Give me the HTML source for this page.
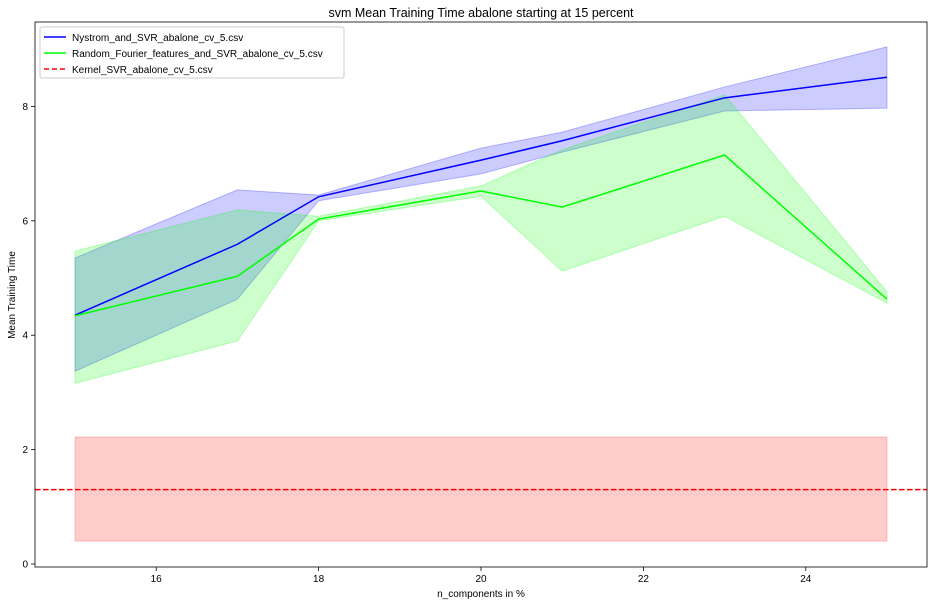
<!DOCTYPE html>
<html><head><meta charset="utf-8"><style>
body{margin:0;background:#fff;font-family:"Liberation Sans",sans-serif}
svg text{font-family:"Liberation Sans",sans-serif;fill:#000}
</style></head><body>
<svg id="chart" width="934" height="605" xmlns="http://www.w3.org/2000/svg">
<text x="481" y="17" font-size="12.5" text-anchor="middle">svm Mean Training Time abalone starting at 15 percent</text>
<g id="plot"></g>
<rect x="35" y="22" width="892" height="545" fill="none" stroke="#000" stroke-width="0.8"/>
<text x="481" y="597" font-size="10" text-anchor="middle">n_components in %</text>
<text transform="translate(15,295) rotate(-90)" font-size="10" text-anchor="middle">Mean Training Time</text>
<g>
<rect x="40" y="27" width="304" height="51" fill="#fff" stroke="#ccc" rx="2"/>
<line x1="44" y1="37" x2="66" y2="37" stroke="#0000ff" stroke-width="1.5"/>
<text x="72" y="41" font-size="10">Nystrom_and_SVR_abalone_cv_5.csv</text>
<line x1="44" y1="53" x2="66" y2="53" stroke="#00ff00" stroke-width="1.5"/>
<text x="72" y="57" font-size="10">Random_Fourier_features_and_SVR_abalone_cv_5.csv</text>
<line x1="44" y1="69" x2="66" y2="69" stroke="#ff0000" stroke-width="1.5" stroke-dasharray="5,3"/>
<text x="72" y="73" font-size="10">Kernel_SVR_abalone_cv_5.csv</text>
</g>
</svg>
<script>
const xs=[15,17,18,20,21,23,25];
const nysMean=[4.35,5.59,6.42,7.06,7.4,8.15,8.51];
const nysUp=[5.35,6.54,6.45,7.27,7.55,8.34,9.04];
const nysLo=[3.37,4.63,6.35,6.82,7.2,7.92,7.97];
const rffMean=[4.34,5.03,6.03,6.52,6.24,7.15,4.63];
const rffUp=[5.47,6.19,6.08,6.61,7.24,8.2,4.76];
const rffLo=[3.16,3.9,6.0,6.43,5.12,6.08,4.56];
const kernelMean=1.3, kernelUp=2.22, kernelLo=0.4;
const xTicks=[16,18,20,22,24];
const yTicks=[0,2,4,6,8];
const X=v=>75+(v-15)*81.2;
const Y=v=>564-v*57.2;
const NS='http://www.w3.org/2000/svg';
const g=document.getElementById('plot');
function mk(t,a){const e=document.createElementNS(NS,t);for(const k in a)e.setAttribute(k,a[k]);g.appendChild(e);return e;}
function band(up,lo,c){let d='M'+xs.map((x,i)=>X(x)+','+Y(up[i])).join('L');d+='L'+xs.map((x,i)=>X(x)+','+Y(lo[i])).reverse().join('L')+'Z';return mk('path',{d:d,fill:c,'fill-opacity':0.2,stroke:c,'stroke-opacity':0.25});}
function line(m,c){return mk('polyline',{points:xs.map((x,i)=>X(x)+','+Y(m[i])).join(' '),fill:'none',stroke:c,'stroke-width':1.5});}
let e;
e=mk('rect',{x:X(15),y:Y(kernelUp),width:X(25)-X(15),height:Y(kernelLo)-Y(kernelUp),fill:'#ff0000','fill-opacity':0.2,stroke:'#ff0000','stroke-opacity':0.2});


e=band(nysUp,nysLo,'#0000ff');


e=band(rffUp,rffLo,'#00ff00');


e=line(nysMean,'#0000ff');


e=line(rffMean,'#00ff00');


e=mk('line',{x1:35,x2:927,y1:Y(kernelMean),y2:Y(kernelMean),stroke:'#ff0000','stroke-width':1.5,'stroke-dasharray':'5.5,2.5'});


xTicks.forEach(t=>{mk('line',{x1:X(t),x2:X(t),y1:567,y2:571,stroke:'#000','stroke-width':0.8});
e=mk('text',{x:X(t),y:582,'font-size':10,'text-anchor':'middle'});e.textContent=t;

});
yTicks.forEach(t=>{mk('line',{x1:31,x2:35,y1:Y(t),y2:Y(t),stroke:'#000','stroke-width':0.8});
e=mk('text',{x:28,y:Y(t)+3.5,'font-size':10,'text-anchor':'end'});e.textContent=t;

});
</script>
</body></html>
